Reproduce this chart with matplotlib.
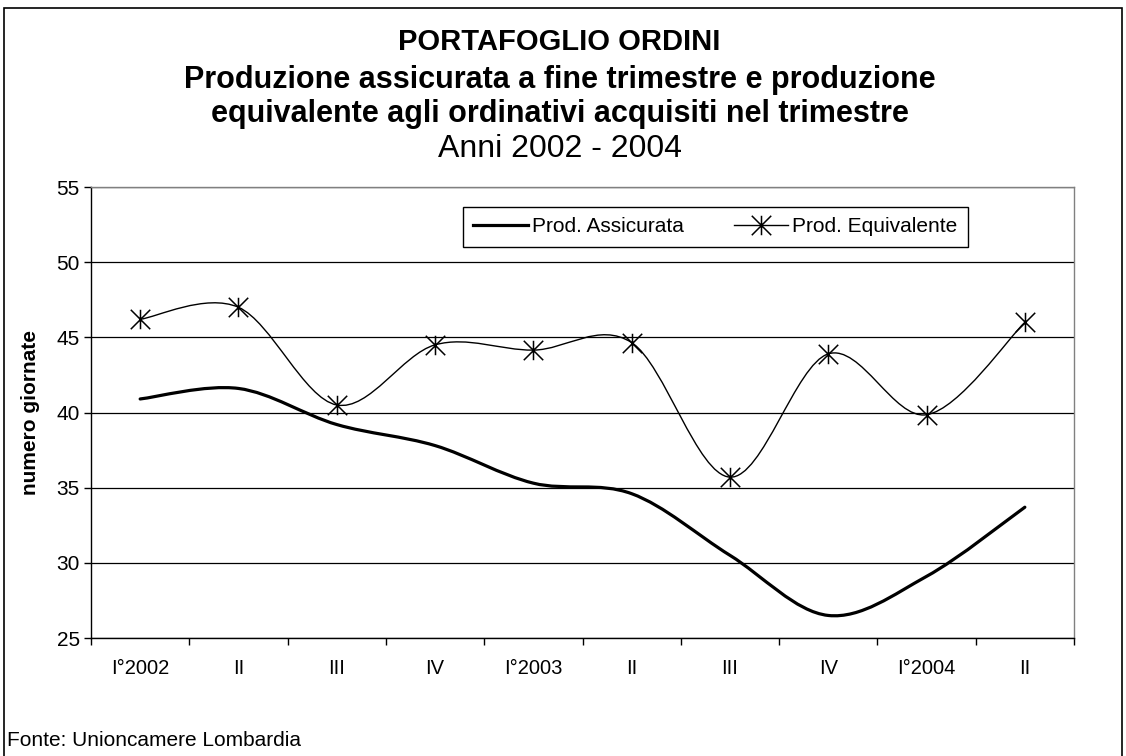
import numpy as np
import matplotlib.pyplot as plt
from matplotlib.path import Path
from matplotlib.patches import PathPatch, Rectangle
from matplotlib.lines import Line2D

plt.rcParams['font.family'] = ['Liberation Sans', 'DejaVu Sans']

# trimestri 2002 - 2004
trimestri = ['I°2002', 'II', 'III', 'IV', 'I°2003', 'II', 'III', 'IV', 'I°2004', 'II']
prod_assicurata = [40.9, 41.6, 39.2, 37.8, 35.3, 34.6, 30.5, 26.5, 29.1, 33.7]
prod_equivalente = [46.2, 47.0, 40.5, 44.5, 44.15, 44.65, 35.7, 43.9, 39.85, 46.0]


def smooth_path(xs, ys):
    # curva smussata tipo Excel (bezier con tangenti catmull-rom)
    pts = np.column_stack([xs, ys]).astype(float)
    ext = np.vstack([pts[0], pts, pts[-1]])
    verts = [pts[0]]
    codes = [Path.MOVETO]
    for i in range(len(pts) - 1):
        p0, p1, p2, p3 = ext[i], ext[i + 1], ext[i + 2], ext[i + 3]
        c1 = p1 + (p2 - p0) / 6
        c2 = p2 - (p3 - p1) / 6
        verts += [c1, c2, p2]
        codes += [Path.CURVE4] * 3
    return Path(verts, codes)


star = Path([(0, -1), (0, 1), (-1, -1), (1, 1), (-1, 1), (1, -1)],
            [Path.MOVETO, Path.LINETO, Path.MOVETO, Path.LINETO, Path.MOVETO, Path.LINETO])

fs = 15

fig = plt.figure(figsize=(11.26, 7.56), dpi=100)
ax = fig.add_axes([91 / 1126, 1 - 638 / 756, (1074 - 91) / 1126, (638 - 187) / 756])

x = np.arange(len(trimestri))
ax.add_patch(PathPatch(smooth_path(x, prod_assicurata), fill=False, lw=2.3, color='black',
                       capstyle='round', joinstyle='round', zorder=3))
ax.add_patch(PathPatch(smooth_path(x, prod_equivalente), fill=False, lw=1.0, color='black', zorder=3))
ax.plot(x, prod_equivalente, linestyle='none', marker=star, markersize=14, mew=1.1,
        color='black', zorder=4)

ax.set_xlim(-0.5, len(trimestri) - 0.5)
ax.set_ylim(25, 55)
ax.set_yticks(range(25, 56, 5))
ax.yaxis.grid(True, color='black', lw=0.9)
ax.set_axisbelow(True)

ax.set_xticks(x)
ax.set_xticklabels(trimestri)
ax.set_xticks(np.arange(-0.5, len(trimestri)), minor=True)
ax.tick_params(axis='x', which='major', length=0, pad=15, labelsize=14.5)
ax.tick_params(axis='x', which='minor', length=5, width=1, direction='out')
ax.tick_params(axis='y', length=5, width=1, direction='out', labelsize=fs, pad=3)

ax.spines['left'].set_color('black')
ax.spines['bottom'].set_color('black')
ax.spines['right'].set_color('#808080')
ax.spines['top'].set_color('#808080')
for s in ax.spines.values():
    s.set_linewidth(1.0)

ax.set_ylabel('numero giornate', fontsize=fs, fontweight='bold', labelpad=12)

handles = [Line2D([], [], color='black', lw=2.3),
           Line2D([], [], color='black', lw=1.0, marker=star, markersize=14, mew=1.1)]
leg = ax.legend(handles, ['Prod. Assicurata', 'Prod. Equivalente'], ncol=2, loc='upper left',
                bbox_to_anchor=((463 - 91) / 983, 1 - (207 - 187) / 451), fontsize=fs,
                frameon=True, fancybox=False, framealpha=1, edgecolor='black',
                borderpad=0.5, handlelength=2.6, handletextpad=0.2, columnspacing=2.4,
                borderaxespad=0)
leg.get_frame().set_linewidth(1.0)

fig.text(0.497, 1 - 42 / 756, 'PORTAFOGLIO ORDINI', ha='center', va='center',
         fontsize=21, fontweight='bold')
fig.text(0.497, 1 - 80 / 756, 'Produzione assicurata a fine trimestre e produzione',
         ha='center', va='center', fontsize=22, fontweight='bold')
fig.text(0.497, 1 - 114 / 756, 'equivalente agli ordinativi acquisiti nel trimestre',
         ha='center', va='center', fontsize=22, fontweight='bold')
fig.text(0.497, 1 - 149 / 756, 'Anni 2002 - 2004', ha='center', va='center', fontsize=23)

fig.text(7 / 1126, 1 - 740 / 756, 'Fonte: Unioncamere Lombardia', ha='left', va='center',
         fontsize=fs)

fig.patches.append(Rectangle((4 / 1126, -0.02), (1122 - 4) / 1126, 1.02 - 8 / 756,
                             transform=fig.transFigure, fill=False, lw=1.2,
                             edgecolor='black'))

fig.savefig('out.png', dpi=100)
